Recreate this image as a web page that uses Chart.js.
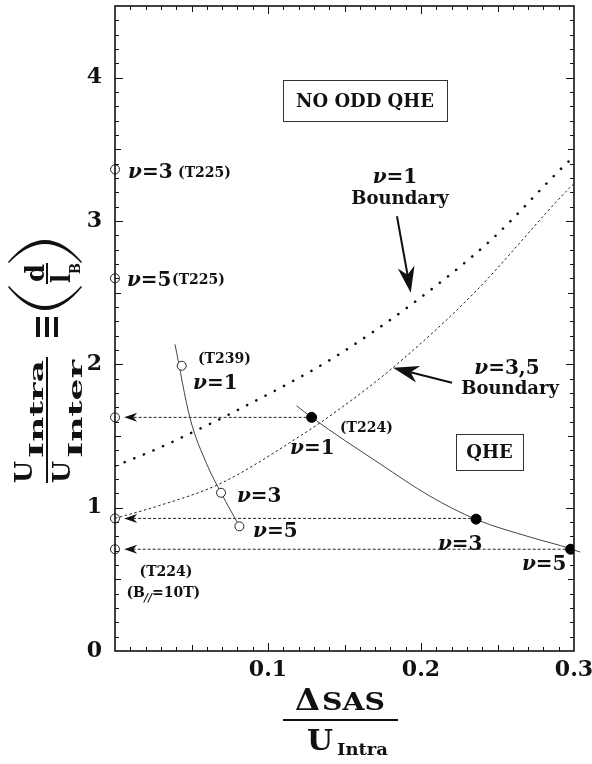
<!DOCTYPE html>
<html>
<head>
<meta charset="utf-8">
<title>QHE phase diagram</title>
<script src="https://cdn.jsdelivr.net/npm/chart.js"></script>
<style>
	html, body { margin: 0; padding: 0; background: #fff; }
</style>
</head>
<body>
<canvas id="chart" width="592" height="764"></canvas>
<script>
	// tick positions / labels
	const xTickVals = [0.1, 0.2, 0.3];
	const yTickVals = [0, 1, 2, 3, 4];

	// T224 sample: fitted curve and measured (filled) points
	const t224CurveX = [0.1187, 0.1285, 0.1732, 0.2059, 0.236, 0.2712, 0.2978, 0.304];
	const t224CurveY = [1.711, 1.63, 1.306, 1.08, 0.918, 0.795, 0.714, 0.69];
	const t224PtsX = [0.1285, 0.236, 0.2978];
	const t224PtsY = [1.63, 0.92, 0.71];

	// T239 sample: curve and open points
	const t239CurveX = [0.0392, 0.049, 0.0599, 0.0693, 0.0813];
	const t239CurveY = [2.14, 1.626, 1.306, 1.104, 0.87];
	const t239PtsX = [0.0436, 0.0693, 0.0813];
	const t239PtsY = [1.99, 1.104, 0.87];

	// open points sitting on the y axis (Delta_SAS = 0)
	const axisPtsY = [3.36, 2.60, 1.63, 0.925, 0.71];

	// dashed projection lines from the T224 points back to the axis
	const projFromX = [0.1285, 0.236, 0.2978];
	const projY = [1.63, 0.925, 0.71];

	// boundaries
	const nu1BoundX = [0, 0.0316, 0.114, 0.145, 0.194, 0.246, 0.293, 0.3];
	const nu1BoundY = [1.29, 1.43, 1.87, 2.06, 2.42, 2.87, 3.38, 3.45];
	const nu35BoundX = [0, 0.0294, 0.0686, 0.121, 0.147, 0.182, 0.234, 0.297, 0.3];
	const nu35BoundY = [0.925, 1.016, 1.167, 1.50, 1.69, 1.98, 2.49, 3.23, 3.26];

	const FONT = '"DejaVu Serif"';
	const INK = '#111';

	const pts = (xs, ys) => xs.map((x, i) => ({ x: x, y: ys[i] }));

	const projSets = projY.map((y, i) => ({
		data: [{ x: projFromX[i], y: y }, { x: 0.008, y: y }],
		showLine: true,
		pointRadius: 0,
		borderColor: '#222',
		borderWidth: 1,
		borderDash: [3, 2],
		order: 5
	}));

	const data = {
		datasets: [
			{
				data: pts(t224PtsX, t224PtsY),
				pointRadius: 5,
				pointBackgroundColor: '#000',
				pointBorderColor: '#000',
				order: 0
			},
			{
				data: pts(t239PtsX, t239PtsY),
				pointRadius: 4.5,
				pointBackgroundColor: '#fff',
				pointBorderColor: '#222',
				pointBorderWidth: 1,
				order: 0
			},
			{
				data: axisPtsY.map(y => ({ x: 0, y: y })),
				pointRadius: 4.5,
				pointBackgroundColor: 'rgba(255,255,255,0)',
				pointBorderColor: '#222',
				pointBorderWidth: 1,
				clip: false,
				order: 0
			},
			{
				data: pts(t224CurveX, t224CurveY),
				showLine: true,
				pointRadius: 0,
				borderColor: '#444',
				borderWidth: 1,
				cubicInterpolationMode: 'monotone',
				clip: false,
				order: 3
			},
			{
				data: pts(t239CurveX, t239CurveY),
				showLine: true,
				pointRadius: 0,
				borderColor: '#444',
				borderWidth: 1,
				cubicInterpolationMode: 'monotone',
				order: 3
			},
			{
				data: pts(nu1BoundX, nu1BoundY),
				showLine: true,
				pointRadius: 0,
				borderColor: '#111',
				borderWidth: 2.6,
				borderDash: [0.1, 10.3],
				borderCapStyle: 'round',
				cubicInterpolationMode: 'monotone',
				order: 4
			},
			{
				data: pts(nu35BoundX, nu35BoundY),
				showLine: true,
				pointRadius: 0,
				borderColor: '#222',
				borderWidth: 1,
				borderDash: [2.5, 2.5],
				cubicInterpolationMode: 'monotone',
				order: 4
			}
		].concat(projSets)
	};

	// ---- drawing helpers ----
	function fitText(ctx, s, u0, u1, base, font) {
		ctx.font = font;
		const w = ctx.measureText(s).width;
		ctx.save();
		ctx.translate(u0, base);
		ctx.scale((u1 - u0) / w, 1);
		ctx.fillText(s, 0, 0);
		ctx.restore();
	}

	function nuWidth(ctx, rest, size) {
		ctx.font = 'italic bold ' + size + 'px ' + FONT;
		let w = ctx.measureText('ν').width;
		ctx.font = 'bold ' + size + 'px ' + FONT;
		return w + ctx.measureText(rest).width;
	}

	function drawNu(ctx, x, y, rest, size) {
		ctx.textAlign = 'left';
		ctx.font = 'italic bold ' + size + 'px ' + FONT;
		ctx.fillText('ν', x, y);
		const w = ctx.measureText('ν').width;
		ctx.font = 'bold ' + size + 'px ' + FONT;
		ctx.fillText(rest, x + w, y);
	}

	function arrowHead(ctx, tx, ty, ang, len, half) {
		// ang: direction the arrow points to
		const c = Math.cos(ang), s = Math.sin(ang);
		const bx = tx - c * len, by = ty - s * len;
		const nx = tx - c * len * 0.7, ny = ty - s * len * 0.7;
		ctx.beginPath();
		ctx.moveTo(tx, ty);
		ctx.lineTo(bx - s * half, by + c * half);
		ctx.lineTo(nx, ny);
		ctx.lineTo(bx + s * half, by - c * half);
		ctx.closePath();
		ctx.fill();
	}

	function drawYTitle(ctx) {
		ctx.save();
		ctx.translate(0, 483);
		ctx.rotate(-Math.PI / 2);
		ctx.fillStyle = INK;
		ctx.textAlign = 'left';
		ctx.textBaseline = 'alphabetic';
		fitText(ctx, 'U', 0, 22, 32, 'bold 25px ' + FONT);
		fitText(ctx, 'Intra', 25, 123, 43, 'bold 18px ' + FONT);
		ctx.fillRect(0, 46, 126, 2);
		fitText(ctx, 'U', 0, 22, 70, 'bold 25px ' + FONT);
		fitText(ctx, 'Inter', 25, 123, 82, 'bold 18px ' + FONT);
		[38, 47, 56].forEach(v => ctx.fillRect(146, v - 2, 20, 4));
		// parentheses
		ctx.beginPath();
		ctx.moveTo(196, 8);
		ctx.quadraticCurveTo(150, 45, 196, 82);
		ctx.lineTo(197, 81);
		ctx.quadraticCurveTo(157, 45, 197, 9);
		ctx.closePath();
		ctx.fill();
		ctx.beginPath();
		ctx.moveTo(221, 8);
		ctx.quadraticCurveTo(265, 45, 221, 82);
		ctx.lineTo(220, 81);
		ctx.quadraticCurveTo(258, 45, 220, 9);
		ctx.closePath();
		ctx.fill();
		fitText(ctx, 'd', 201, 219, 44, 'bold 26px ' + FONT);
		ctx.fillRect(199, 46, 21, 2);
		fitText(ctx, 'l', 200, 209, 70, 'bold 26px ' + FONT);
		fitText(ctx, 'B', 209, 220, 80, 'bold 15px ' + FONT);
		ctx.restore();
	}

	function drawXTitle(ctx) {
		ctx.save();
		ctx.fillStyle = INK;
		ctx.textAlign = 'left';
		ctx.textBaseline = 'alphabetic';
		fitText(ctx, 'Δ', 295, 320, 710, 'bold 30px ' + FONT);
		fitText(ctx, 'SAS', 322, 385, 710, 'bold 25px ' + FONT);
		ctx.fillRect(283, 719, 115, 2);
		fitText(ctx, 'U', 307, 333, 750, 'bold 28px ' + FONT);
		fitText(ctx, 'Intra', 337, 388, 755, 'bold 17px ' + FONT);
		ctx.restore();
	}

	const decor = {
		id: 'decor',
		afterDraw(chart) {
			const ctx = chart.ctx;
			const xs = chart.scales.x, ys = chart.scales.y;
			const X = v => xs.getPixelForValue(v);
			const Y = v => ys.getPixelForValue(v);
			const a = chart.chartArea;
			ctx.save();
			ctx.fillStyle = INK;
			ctx.strokeStyle = INK;

			// frame with inward ticks on all sides
			ctx.lineWidth = 1.6;
			ctx.strokeRect(a.left, a.top, a.right - a.left, a.bottom - a.top);
			ctx.lineWidth = 1;
			ctx.beginPath();
			for (let i = 1; i < 45; i++) {
				const py = Math.round(Y(i / 10)) + 0.5;
				const len = i % 10 === 0 ? 8 : (i % 5 === 0 ? 6 : 4);
				ctx.moveTo(a.left, py); ctx.lineTo(a.left + len, py);
				ctx.moveTo(a.right, py); ctx.lineTo(a.right - len, py);
			}
			for (let i = 1; i < 30; i++) {
				const pxv = Math.round(X(i / 100)) + 0.5;
				const len = i % 10 === 0 ? 8 : (i % 5 === 0 ? 6 : 4);
				ctx.moveTo(pxv, a.bottom); ctx.lineTo(pxv, a.bottom - len);
				ctx.moveTo(pxv, a.top); ctx.lineTo(pxv, a.top + len);
			}
			ctx.stroke();

			// arrowheads on the projection lines
			projY.forEach(y => arrowHead(ctx, X(0.006), Y(y), Math.PI, 13, 4.5));

			// boundary pointer arrows
			ctx.lineWidth = 2;
			const arrows = [
				[0.1843, 3.033, 0.1933, 2.50],
				[0.2203, 1.871, 0.1817, 1.976]
			];
			arrows.forEach(r => {
				const x0 = X(r[0]), y0 = Y(r[1]), x1 = X(r[2]), y1 = Y(r[3]);
				const ang = Math.atan2(y1 - y0, x1 - x0);
				ctx.beginPath();
				ctx.moveTo(x0, y0);
				ctx.lineTo(x1 - Math.cos(ang) * 18, y1 - Math.sin(ang) * 18);
				ctx.stroke();
				arrowHead(ctx, x1, y1, ang, 26, 8.5);
			});

			// labels
			ctx.textBaseline = 'alphabetic';
			const small = 'bold 14px ' + FONT;
			// on the axis
			drawNu(ctx, X(0.0085), Y(3.297), '=3', 20);
			ctx.font = small; ctx.fillText('(T225)', X(0.0412), Y(3.31));
			drawNu(ctx, X(0.0078), Y(2.546), '=5', 20);
			ctx.font = small; ctx.fillText('(T225)', X(0.0373), Y(2.56));
			ctx.textAlign = 'center';
			ctx.fillText('(T224)', X(0.0333), Y(0.522));
			// (B//=10T)
			ctx.textAlign = 'left';
			let bx = X(0.0075), by = Y(0.376);
			ctx.font = small; ctx.fillText('(B', bx, by);
			bx += ctx.measureText('(B').width;
			ctx.font = 'italic bold 11px ' + FONT; ctx.fillText('//', bx - 1, by + 4);
			bx += ctx.measureText('//').width - 1;
			ctx.font = small; ctx.fillText('=10T)', bx, by);

			// T239
			ctx.font = small; ctx.fillText('(T239)', X(0.0542), Y(2.01));
			drawNu(ctx, X(0.051), Y(1.83), '=1', 20);
			drawNu(ctx, X(0.0797), Y(1.037), '=3', 20);
			drawNu(ctx, X(0.0902), Y(0.793), '=5', 20);

			// T224
			drawNu(ctx, X(0.1144), Y(1.377), '=1', 20);
			ctx.font = small; ctx.fillText('(T224)', X(0.147), Y(1.53));
			drawNu(ctx, X(0.2111), Y(0.703), '=3', 20);
			drawNu(ctx, X(0.266), Y(0.563), '=5', 20);

			// boundary captions
			let w = nuWidth(ctx, '=1', 20);
			drawNu(ctx, X(0.183) - w / 2, Y(3.263), '=1', 20);
			ctx.textAlign = 'center';
			ctx.font = 'bold 18px ' + FONT;
			ctx.fillText('Boundary', X(0.1863), Y(3.117));
			w = nuWidth(ctx, '=3,5', 20);
			drawNu(ctx, X(0.2562) - w / 2, Y(1.934), '=3,5', 20);
			ctx.textAlign = 'center';
			ctx.font = 'bold 18px ' + FONT;
			ctx.fillText('Boundary', X(0.2582), Y(1.795));

			// region boxes
			const boxes = [
				['NO ODD QHE', 0.1098, 0.2170, 3.986, 3.701],
				['QHE', 0.2229, 0.2667, 1.517, 1.266]
			];
			ctx.lineWidth = 1;
			boxes.forEach(b => {
				const l = X(b[1]), r = X(b[2]), t = Y(b[3]), btm = Y(b[4]);
				ctx.strokeStyle = '#333';
				ctx.strokeRect(Math.round(l) + 0.5, Math.round(t) + 0.5, Math.round(r - l), Math.round(btm - t));
				ctx.font = 'bold 18px ' + FONT;
				ctx.textAlign = 'center';
				ctx.fillText(b[0], (l + r) / 2, (t + btm) / 2 + 6.5);
			});

			drawYTitle(ctx);
			drawXTitle(ctx);
			ctx.restore();
		}
	};

	const tickFont = { family: FONT, size: 22, weight: 'bold' };

	new Chart(document.getElementById('chart'), {
		type: 'scatter',
		data: data,
		options: {
			responsive: false,
			animation: false,
			layout: { padding: { top: 5, right: 18, left: 0, bottom: 0 } },
			plugins: { legend: { display: false }, tooltip: { enabled: false } },
			scales: {
				x: {
					type: 'linear',
					min: 0,
					max: 0.3,
					grid: { display: false, drawTicks: false },
					border: { display: false },
					afterBuildTicks: s => { s.ticks = xTickVals.map(v => ({ value: v })); },
					afterFit: s => { s.height = 113; s.paddingLeft = 0; s.paddingRight = 0; },
					ticks: {
						autoSkip: false,
						maxRotation: 0,
						minRotation: 0,
						padding: 6,
						color: INK,
						font: tickFont,
						callback: v => v.toFixed(1)
					}
				},
				y: {
					type: 'linear',
					min: 0,
					max: 4.5,
					grid: { display: false, drawTicks: false },
					border: { display: false },
					afterBuildTicks: s => { s.ticks = yTickVals.map(v => ({ value: v })); },
					afterFit: s => { s.width = 115; s.paddingTop = 0; s.paddingBottom = 0; },
					ticks: {
						autoSkip: false,
						padding: 13,
						color: INK,
						font: tickFont,
						callback: v => String(v)
					}
				}
			}
		},
		plugins: [decor]
	});
</script>
</body>
</html>
